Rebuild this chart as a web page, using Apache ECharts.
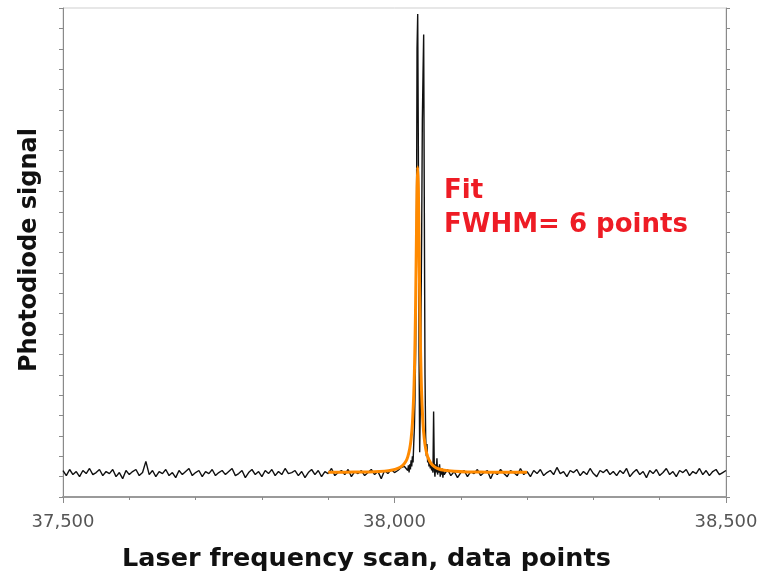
<!DOCTYPE html>
<html>
<head>
<meta charset="utf-8">
<script src="https://cdn.jsdelivr.net/npm/echarts@6/dist/echarts.min.js"></script>
<style>
  html, body { margin: 0; padding: 0; background: #fff; }
  #chart { width: 775px; height: 580px; }
</style>
</head>
<body>
<div id="chart"></div>
<script>
// Scan is stored in three pieces: coarse noise, the peak (every point), coarse noise
var scanStart = 37500;
var scanStep = 5;
var leftNoise = [
   0.30,0.05,0.35,0.10,0.25,0.00,0.30,0.15,0.40,0.10,
   0.20,0.35,0.05,0.25,0.15,0.35,0.00,0.20,-0.10,0.30,
   0.10,0.25,0.35,0.05,0.20,0.75,0.10,0.30,0.00,0.25,
   0.15,0.35,0.05,0.20,-0.05,0.30,0.10,0.25,0.40,0.05,
   0.20,0.30,0.00,0.25,0.15,0.35,0.05,0.20,0.30,0.10,
   0.25,0.40,0.05,0.15,0.30,-0.05,0.20,0.35,0.10,0.25,
   0.00,0.30,0.15,0.35,0.05,0.25,0.10,0.40,0.15,0.20,
   0.30,0.05,0.25,-0.05,0.20,0.35,0.10,0.30,0.00,0.25,
   0.15,0.40,0.05,0.20,0.30,0.10,0.35,0.00,0.25,0.15,
   0.30,0.05,0.20,0.35,0.10,0.25,-0.10,0.30,0.15,0.35,
   0.20,0.30,0.45,0.50
];
var peakStart = 38020;
var peakSignal = [
   0.30,0.55,0.20,0.60,0.35,0.80,0.50,1.00,0.70,1.60,
   2.40,4.00,6.50,10.5,21.0,22.7,16.0,6.00,1.20,3.50,
   8.00,12.0,17.5,19.7,21.7,13.0,5.00,2.00,1.00,1.60,
   0.70,1.00,0.50,0.80,0.40,0.70,0.30,0.50,0.20,3.20,
   0.40,0.00,0.60,0.20,0.90,0.10,0.50,0.20,0.60,0.00,
   0.35,0.10,0.40,-0.05,0.30
];
var rightStart = 38075;
var rightNoise = [
   0.10,0.35,0.05,0.25,-0.05,0.20,0.30,0.00,0.25,0.15,
   0.35,0.05,0.20,0.30,-0.10,0.25,0.10,0.35,0.15,0.00,
   0.30,0.20,0.05,0.40,0.10,0.25,0.00,0.30,0.15,0.35,
   0.05,0.20,0.30,0.10,0.45,0.15,0.25,0.00,0.30,0.20,
   0.35,0.05,0.25,0.10,0.40,0.15,0.00,0.30,0.20,0.35,
   0.10,0.25,0.05,0.30,0.15,0.40,0.00,0.20,0.35,0.10,
   0.25,-0.05,0.30,0.15,0.35,0.05,0.20,0.40,0.10,0.25,
   0.00,0.30,0.20,0.35,0.05,0.25,0.15,0.40,0.10,0.30,
   0.05,0.25,0.35,0.10,0.20,0.30
];

// Lorentzian fit
var fitX = [37900,37925,37950,37970,37985,37995,38005,38012,38017,38020,
            38023,38025,38027,38029,38030,38031,38032,38033,38034,38035,
            38036,38037,38038,38039,38040,38041,38043,38045,38047,38050,
            38055,38060,38065,38075,38090,38110,38140,38170,38200];
var fitY = [0.21,0.22,0.23,0.24,0.27,0.31,0.40,0.54,0.74,0.97,
            1.38,1.84,2.60,4.00,5.10,6.70,8.85,11.5,14.1,15.2,
            14.1,11.5,8.85,6.70,5.10,4.00,2.60,1.84,1.38,0.97,
            0.65,0.49,0.40,0.31,0.26,0.23,0.22,0.21,0.21];

var xTicks = [37500, 38000, 38500];
var annotation = ['Fit', 'FWHM= 6 points'];

var signal = [];
for (var i = 0; i < leftNoise.length; i++) {
   signal.push([scanStart + i * scanStep, leftNoise[i]]);
}
for (var i = 0; i < peakSignal.length; i++) {
   signal.push([peakStart + i, peakSignal[i]]);
}
for (var i = 0; i < rightNoise.length; i++) {
   signal.push([rightStart + i * scanStep, rightNoise[i]]);
}
var fit = [];
for (var i = 0; i < fitX.length; i++) {
   fit.push([fitX[i], fitY[i]]);
}

function withComma(v){
   return String(v).replace(/\B(?=(\d{3})+(?!\d))/g, ',');
}

var yAxisBase = {
   type: 'value',
   min: -1,
   max: 23,
   interval: 1,
   axisLine: { show: true, lineStyle: { color: '#8a8a8a', width: 1 } },
   axisTick: { show: true, length: 4, lineStyle: { color: '#8a8a8a' } },
   axisLabel: { show: false },
   splitLine: { show: false }
};

var chart = echarts.init(document.getElementById('chart'));
var option = {
   animation: false,
   backgroundColor: '#fff',
   grid: {
      left: 63, right: 49, top: 8, bottom: 83,
      show: true, borderColor: '#cfcfcf', borderWidth: 1
   },
   xAxis: {
      type: 'value',
      min: xTicks[0],
      max: xTicks[xTicks.length - 1],
      interval: xTicks[1] - xTicks[0],
      axisLine: { show: true, onZero: false, lineStyle: { color: '#9a9a9a', width: 2 } },
      axisTick: { show: true, length: 6, lineStyle: { color: '#8a8a8a' } },
      minorTick: { show: true, splitNumber: 5, length: 3, lineStyle: { color: '#8a8a8a' } },
      axisLabel: {
         margin: 16,
         color: '#555',
         fontFamily: 'DejaVu Sans',
         fontSize: 18,
         formatter: withComma
      },
      splitLine: { show: false }
   },
   yAxis: [
      echarts.util.merge({ position: 'left' }, yAxisBase, true),
      echarts.util.merge({ position: 'right' }, yAxisBase, true)
   ],
   series: [
      {
         name: 'signal',
         type: 'line',
         data: signal,
         showSymbol: false,
         lineStyle: { color: '#111', width: 1.4 },
         z: 2
      },
      {
         name: 'fit',
         type: 'line',
         data: fit,
         showSymbol: false,
         smooth: 0.3,
         lineStyle: { color: '#ff8a00', width: 3 },
         z: 3
      }
   ],
   graphic: [
      {
         type: 'text', left: 122, top: 546,
         style: { text: 'Laser frequency scan, data points', fill: '#111',
                  font: 'bold 25.5px "DejaVu Sans"' }
      },
      {
         type: 'text', x: 30, y: 250, rotation: Math.PI / 2,
         style: { text: 'Photodiode signal', fill: '#111',
                  textAlign: 'center', textVerticalAlign: 'middle',
                  font: 'bold 24px "DejaVu Sans"' }
      },
      {
         type: 'text', left: 444, top: 174,
         style: { text: annotation.join('\n'), fill: '#ee1c25', lineHeight: 34,
                  font: 'bold 26px "DejaVu Sans"' }
      }
   ]
};
chart.setOption(option);
</script>
</body>
</html>
